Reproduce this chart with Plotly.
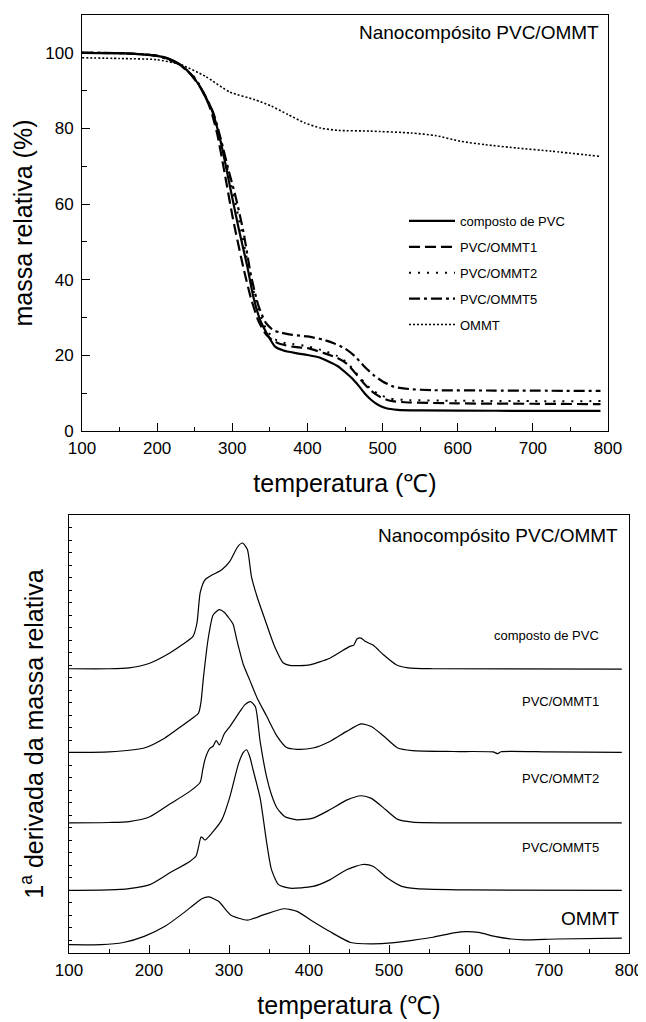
import plotly.graph_objects as go

# page body has an 8px default margin: the figure is drawn 8px right/down of the window corner
W, H = 638, 1014
OFF = 8

# ---------------- TGA (top) ----------------
names = ["composto de PVC", "PVC/OMMT1", "PVC/OMMT2", "PVC/OMMT5", "OMMT"]

t_pvc = [100, 150, 180, 200, 215, 230, 245, 257, 265, 271, 277, 286, 297, 308, 320, 328, 337, 346, 357, 368,
         385, 400, 415, 426, 440, 450, 460, 468, 476, 485, 495, 505, 520, 550, 650, 790]
m_pvc = [100.0, 99.9, 99.6, 99.2, 98.5, 97.0, 94.3, 91.1, 88.0, 85.8, 82.3, 75.2, 64.6, 54.0, 43.5, 35.5, 29.4,
         25.8, 22.3, 21.3, 20.6, 20.1, 19.5, 18.6, 17.2, 15.6, 13.8, 12.0, 10.0, 8.2, 6.8, 6.0, 5.6, 5.45, 5.35, 5.3]

t_ommt1 = [100, 150, 180, 200, 215, 230, 245, 257, 265, 272, 280, 290, 301, 315, 325, 335, 345, 355, 364, 380,
           400, 422, 440, 453, 465, 475, 485, 497, 510, 530, 600, 700, 790]
m_ommt1 = [100.0, 99.9, 99.6, 99.2, 98.4, 96.9, 94.2, 91.0, 88.0, 84.5, 78.5, 68.0, 56.0, 43.0, 35.0, 29.0, 25.5,
           23.8, 23.0, 22.3, 21.9, 20.6, 19.3, 17.7, 15.0, 12.6, 10.6, 9.0, 8.0, 7.6, 7.3, 7.2, 7.1]

t_ommt2 = [100, 150, 200, 230, 250, 265, 275, 285, 295, 305, 315, 325, 335, 345, 355, 365, 380, 400, 422, 440,
           453, 465, 475, 485, 497, 510, 530, 600, 700, 790]
m_ommt2 = [100.0, 99.9, 99.2, 96.9, 93.5, 88.3, 83.5, 76.5, 68.0, 59.5, 50.0, 40.0, 32.0, 27.0, 24.5, 23.5, 23.0,
           22.4, 21.2, 19.8, 18.0, 15.3, 13.0, 11.0, 9.5, 8.6, 8.2, 8.0, 7.9, 7.9]

t_ommt5 = [100, 150, 200, 230, 250, 265, 275, 285, 295, 305, 315, 325, 335, 345, 355, 365, 380, 400, 420, 435,
           450, 463, 475, 488, 500, 515, 535, 565, 650, 790]
m_ommt5 = [100.0, 99.9, 99.2, 96.9, 93.3, 88.3, 84.0, 77.0, 69.0, 61.5, 52.5, 41.0, 33.0, 28.5, 26.6, 26.0, 25.4,
           25.0, 24.2, 23.2, 21.8, 19.8, 17.2, 14.8, 13.1, 11.7, 11.1, 10.8, 10.7, 10.6]

t_ommt = [100, 150, 199, 231, 264, 297, 330, 352, 374, 396, 418, 440, 483, 538, 571, 604, 637, 680, 724, 790]
m_ommt = [98.7, 98.5, 98.2, 96.9, 93.8, 89.6, 87.6, 85.9, 83.7, 81.5, 80.1, 79.5, 79.3, 78.8, 78.1, 76.6, 75.7,
          74.8, 74.0, 72.6]

# ---------------- DTG (bottom) : heights above each baseline, arbitrary units ----------------
dtg_offsets = [64.9, 45.8, 29.7, 14.3, 1.9]

d_t_pvc = [100, 150, 175, 200, 226, 240, 255, 260, 264, 270, 280, 291, 301, 311, 317, 323, 328, 335, 345, 357,
           368, 376, 401, 426, 451, 456, 460, 465, 470, 480, 493, 509, 524, 555, 791]
d_h_pvc = [0, 0, 0.2, 1.2, 3.6, 5.3, 7.4, 10.5, 17.4, 20.3, 21.5, 22.6, 24.5, 27.9, 28.7, 27.2, 21.1, 16.5, 11.2,
           5.1, 1.3, 0.75, 0.9, 2.4, 5.1, 5.4, 6.8, 7.0, 6.3, 5.4, 3.2, 0.9, 0.2, 0, -0.1]

d_t_ommt1 = [100, 150, 194, 220, 240, 255, 262, 265, 268, 274, 280, 285, 288, 294, 299, 305, 310, 318, 326, 335,
             347, 360, 372, 385, 405, 426, 447, 465, 478, 496, 511, 529, 581, 630, 636, 640, 700, 791]
d_h_ommt1 = [0, 0.1, 1.0, 3.3, 5.9, 7.9, 9.0, 11.5, 17.0, 26.0, 31.3, 32.3, 32.6, 32.0, 30.9, 29.3, 25.5, 20.0,
             16.5, 12.5, 8.3, 3.7, 1.1, 0.7, 1.0, 2.5, 4.8, 6.5, 5.9, 3.3, 1.0, 0.4, 0.2, 0.1, -0.3, 0.15, 0.1, 0]

d_t_ommt2 = [100, 150, 175, 201, 226, 251, 264, 267, 270, 276, 280, 284, 288, 294, 301, 314, 320, 327, 333, 339,
             347, 353, 360, 370, 385, 405, 426, 447, 465, 478, 496, 511, 529, 600, 791]
d_h_ommt2 = [0, 0.1, 0.3, 1.4, 4.3, 7.2, 9.3, 12.0, 14.5, 17.0, 17.5, 18.8, 17.8, 20.3, 22.0, 25.5, 27.0, 27.7,
             26.5, 18.5, 10.5, 6.5, 3.4, 1.4, 0.7, 1.1, 3.0, 5.2, 6.2, 5.6, 3.0, 0.8, 0.2, 0, 0]

d_t_ommt5 = [100, 150, 175, 201, 226, 251, 259, 262, 265, 267, 270, 280, 291, 301, 312, 318, 322, 326, 330, 339,
             347, 353, 362, 376, 405, 426, 447, 467, 480, 498, 516, 534, 600, 791]
d_h_ommt5 = [0, 0.1, 0.4, 1.3, 4.0, 6.6, 7.9, 10.0, 12.2, 12.0, 11.5, 13.4, 16.1, 21.3, 29.0, 31.5, 32.1, 30.5,
             27.6, 21.0, 11.0, 4.8, 1.3, 0.5, 0.9, 2.4, 4.7, 5.9, 5.5, 2.8, 0.9, 0.4, 0.1, 0]

d_t_ommt = [100, 140, 168, 194, 220, 240, 256, 266, 275, 287, 302, 323, 343, 369, 385, 405, 426, 452, 478, 503,
            529, 555, 581, 596, 612, 632, 653, 668, 710, 791]
d_h_ommt = [0, 0, 0.5, 1.9, 4.2, 6.8, 9.1, 10.5, 10.9, 9.9, 6.8, 5.6, 6.8, 8.2, 7.6, 5.3, 3.0, 0.5, 0.2, 0.4, 1.0,
            1.7, 2.7, 3.0, 2.8, 1.9, 1.3, 1.1, 1.3, 1.5]

tga_t = [t_pvc, t_ommt1, t_ommt2, t_ommt5, t_ommt]
tga_m = [m_pvc, m_ommt1, m_ommt2, m_ommt5, m_ommt]
dtg_t = [d_t_pvc, d_t_ommt1, d_t_ommt2, d_t_ommt5, d_t_ommt]
dtg_h = [d_h_pvc, d_h_ommt1, d_h_ommt2, d_h_ommt5, d_h_ommt]

tga_styles = [
    dict(width=2.2, dash="solid"),
    dict(width=2.2, dash="11px,5px"),
    dict(width=2.0, dash="2px,7px"),
    dict(width=2.2, dash="11px,4px,3px,4px"),
    dict(width=1.6, dash="2px,2px"),
]

fig = go.Figure()

for i, n in enumerate(names):
    fig.add_trace(go.Scatter(
        x=tga_t[i], y=tga_m[i], mode="lines", name=n,
        line=dict(color="black", shape="spline", smoothing=0.6, **tga_styles[i]),
        xaxis="x", yaxis="y", legendgroup=n, showlegend=True,
    ))

for i, n in enumerate(names):
    fig.add_trace(go.Scatter(
        x=dtg_t[i], y=[dtg_offsets[i] + v for v in dtg_h[i]], mode="lines", name=n,
        line=dict(color="black", width=1.2, shape="spline", smoothing=0.6),
        xaxis="x2", yaxis="y2", showlegend=False,
    ))

FONT = "Liberation Sans, Arial, sans-serif"

def px_x(p):
    return (p - OFF) / W

def px_y(p):
    return 1 - (p - OFF) / H

axis_common = dict(
    showline=True, linecolor="black", linewidth=1, mirror=True,
    ticks="inside", tickcolor="black", tickwidth=1,
    showgrid=False, zeroline=False, automargin=False,
    tickfont=dict(size=17, color="black", family=FONT),
)

fig.update_layout(
    width=W, height=H,
    margin=dict(l=0, r=0, t=0, b=0, autoexpand=False),
    paper_bgcolor="white", plot_bgcolor="white",
    font=dict(family=FONT, color="black"),
    showlegend=True,
    legend=dict(
        x=px_x(404), y=px_y(206), xanchor="left", yanchor="top",
        font=dict(size=13, family=FONT, color="black"),
        bgcolor="rgba(0,0,0,0)", borderwidth=0,
        itemwidth=46, tracegroupgap=6, traceorder="grouped",
    ),
    xaxis=dict(
        domain=[px_x(82), px_x(608)], range=[100, 800], dtick=100, tick0=100,
        ticklen=8, minor=dict(dtick=50, ticks="inside", ticklen=4, tickcolor="black"),
        title=dict(text="temperatura (℃)", font=dict(size=25, family=FONT), standoff=17),
        anchor="y", ticklabelstandoff=2, **axis_common,
    ),
    yaxis=dict(
        domain=[px_y(431), px_y(15)], range=[0, 110], tickvals=[0, 20, 40, 60, 80, 100],
        ticklen=8, minor=dict(dtick=10, ticks="inside", ticklen=5, tickcolor="black"),
        title=dict(text="massa relativa (%)", font=dict(size=25, family=FONT), standoff=5),
        anchor="x", ticklabelstandoff=4, **axis_common,
    ),
    xaxis2=dict(
        domain=[px_x(69), px_x(629)], range=[100, 800], dtick=100, tick0=100,
        ticklen=8, minor=dict(dtick=50, ticks="inside", ticklen=4, tickcolor="black"),
        title=dict(text="temperatura (℃)", font=dict(size=25, family=FONT), standoff=17),
        anchor="y2", ticklabelstandoff=2, **axis_common,
    ),
    yaxis2=dict(
        domain=[px_y(953), px_y(515)], range=[0, 100], dtick=100 / 35, tick0=0,
        ticklen=3, showticklabels=False,
        title=dict(text="1<sup>a</sup> derivada da massa relativa", font=dict(size=25, family=FONT), standoff=17),
        anchor="x2", **axis_common,
    ),
)

annos = [
    dict(text="Nanocompósito PVC/OMMT", x=px_x(601), y=px_y(32), size=19),
    dict(text="Nanocompósito PVC/OMMT", x=px_x(620), y=px_y(535), size=19),
    dict(text=names[0], x=px_x(601), y=px_y(635), size=13),
    dict(text=names[1], x=px_x(601), y=px_y(701), size=13),
    dict(text=names[2], x=px_x(601), y=px_y(778), size=13),
    dict(text=names[3], x=px_x(601), y=px_y(847), size=13),
    dict(text=names[4], x=px_x(621), y=px_y(918), size=19),
]
for a in annos:
    fig.add_annotation(
        text=a["text"], x=a["x"], y=a["y"], xref="paper", yref="paper",
        xanchor="right", yanchor="middle", showarrow=False,
        font=dict(size=a["size"], family=FONT, color="black"),
    )

fig.write_html("out.html")
